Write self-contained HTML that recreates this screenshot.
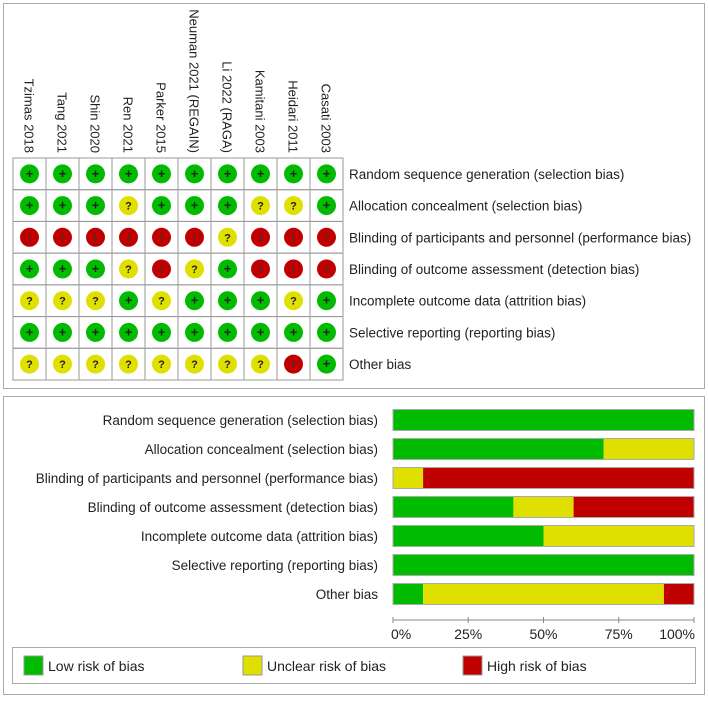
<!DOCTYPE html>
<html><head><meta charset="utf-8"><style>
body{margin:0;background:#fff;font-family:"Liberation Sans",Arial,sans-serif}
svg text{font-family:"Liberation Sans",Arial,sans-serif;fill:#222}
</style></head><body>
<svg id="c" width="708" height="696" xmlns="http://www.w3.org/2000/svg">
<rect x="3.5" y="3.5" width="701" height="385" fill="#fff" stroke="#aaa"/>
<rect x="3.5" y="396.5" width="701" height="298" fill="#fff" stroke="#aaa"/>
<g id="gtop"></g><g id="gbot"></g>
</svg>
<script>
const studies=["Tzimas 2018","Tang 2021","Shin 2020","Ren 2021","Parker 2015","Neuman 2021 (REGAIN)","Li 2022 (RAGA)","Kamitani 2003","Heidari 2011","Casati 2003"];
const domains=["Random sequence generation (selection bias)","Allocation concealment (selection bias)","Blinding of participants and personnel (performance bias)","Blinding of outcome assessment (detection bias)","Incomplete outcome data (attrition bias)","Selective reporting (reporting bias)","Other bias"];
const judgements=["++++++++++","+++?+++??+","------?---","+++?-?+---","???+?+++?+","++++++++++","????????-+"];
const lowPct=[100,70,0,40,50,100,10];
const unclearPct=[0,30,10,20,50,0,80];
const highPct=[0,0,90,40,0,0,10];
const ticks=["0%","25%","50%","75%","100%"];
const NS="http://www.w3.org/2000/svg";
const col={"+":"#00bb00","?":"#e0e000","-":"#c00000",low:"#00bb00",unc:"#e0e000",high:"#c00000"};
function mk(p,t,a,txt){const e=document.createElementNS(NS,t);for(const k in a)e.setAttribute(k,a[k]);if(txt!=null)e.textContent=txt;p.appendChild(e);return e;}
const gTop=document.getElementById('gtop'),gBot=document.getElementById('gbot');
const gx=13,gy=158,cw=33,rh=(380-158)/7;
studies.forEach((s,i)=>{const cx=gx+cw*i+cw/2;
 const t=mk(gTop,'text',{x:0,y:0,'font-size':13,'text-anchor':'end',transform:`translate(${cx-5},153) rotate(90)`},s);
 
 });
domains.forEach((d,r)=>{const cy=gy+rh*r+rh/2;
 const t=mk(gTop,'text',{x:349,y:cy+5,'font-size':13.5},d);
 
 
 studies.forEach((s,i)=>{const cx=gx+cw*i+cw/2;const j=judgements[r][i];
  mk(gTop,'rect',{x:gx+cw*i,y:gy+rh*r,width:cw,height:rh,fill:'none',stroke:'#999'});
  const c=mk(gTop,'circle',{cx:cx,cy:cy,r:9.5,fill:col[j]});
  
  
  if(j=='-') mk(gTop,'line',{x1:cx,x2:cx,y1:cy-4,y2:cy+4,stroke:'#333','stroke-width':1});
  else mk(gTop,'text',{x:cx,y:cy+4,'font-size':j=='+'?13:11,'text-anchor':'middle','font-weight':'bold',fill:'#111'},j);
 });});
const bx0=393,bx1=694,xs=v=>bx0+(bx1-bx0)*v/100;
domains.forEach((d,r)=>{const cy=420+29*r;
 const t=mk(gBot,'text',{x:378,y:cy+5,'font-size':13.5,'text-anchor':'end'},d);
 
 
 let acc=0;[[lowPct[r],col.low],[unclearPct[r],col.unc],[highPct[r],col.high]].forEach(([v,c])=>{
  if(v>0){const b=mk(gBot,'rect',{x:xs(acc),y:cy-10.5,width:xs(acc+v)-xs(acc),height:21,fill:c});
  
  }
  acc+=v;});
 mk(gBot,'rect',{x:bx0,y:cy-10.5,width:bx1-bx0,height:21,fill:'none',stroke:'#aaa'});
});
mk(gBot,'line',{x1:bx0,x2:bx1,y1:620,y2:620,stroke:'#888'});
ticks.forEach((t,i)=>{const x=xs(i*25);mk(gBot,'line',{x1:x,x2:x,y1:617,y2:623,stroke:'#888'});
 const e=mk(gBot,'text',{x:i==0?x-2:(i==4?x+1:x),y:639,'font-size':14,'text-anchor':i==0?'start':(i==4?'end':'middle')},t);
 
 });
const lg=mk(gBot,'rect',{x:12.5,y:647.5,width:683,height:36,fill:'#fff',stroke:'#aaa'});


[[24,col.low,"Low risk of bias"],[243,col.unc,"Unclear risk of bias"],[463,col.high,"High risk of bias"]].forEach(([x,c,l])=>{
 mk(gBot,'rect',{x:x,y:656,width:19,height:19,fill:c,stroke:'#999'});
 const e=mk(gBot,'text',{x:x+24,y:671,'font-size':14},l);
 
 });
</script>
</body></html>
